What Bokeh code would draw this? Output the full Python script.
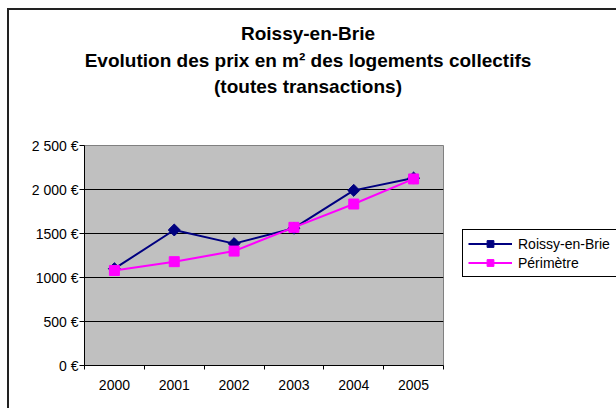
from bokeh.plotting import figure
from bokeh.models import Range1d, FixedTicker, Label, Legend, LegendItem
from bokeh.layouts import row, column
from bokeh.embed import file_html
from bokeh.resources import INLINE
import numpy as np

years = ["2000", "2001", "2002", "2003", "2004", "2005"]
roissy = [1100, 1540, 1385, 1560, 1990, 2130]
perimetre = [1080, 1180, 1300, 1570, 1835, 2120]
y_ticks = [0, 500, 1000, 1500, 2000, 2500]
y_labels = ["0 €", "500 €", "1000 €", "1500 €", "2 000 €", "2 500 €"]
title_lines = ["Roissy-en-Brie",
               "Evolution des prix en m² des logements collectifs",
               "(toutes transactions)"]
series_names = ["Roissy-en-Brie", "Périmètre"]

FONT = "Liberation Sans"
NAVY = "#000080"
MAGENTA = "#FF00FF"

xs = [i + 0.5 for i in range(len(years))]


def blank(width, height, **borders):
    f = figure(width=width, height=height, output_backend="svg", toolbar_location=None,
               x_range=Range1d(0, 1), y_range=Range1d(0, 1),
               x_axis_location=None, y_axis_location=None, **borders)
    f.grid.visible = False
    f.outline_line_color = None
    f.background_fill_color = "white"
    f.border_fill_color = "white"
    return f


# ---- title block (full width) ----
t = blank(607, 125, min_border_left=0, min_border_right=0, min_border_top=0, min_border_bottom=0)
for txt, ypos in zip(title_lines, [102, 75.3, 49.3]):
    t.add_layout(Label(x=298.5, y=ypos, x_units="screen", y_units="screen", text=txt,
                       text_align="center", text_baseline="alphabetic",
                       text_font=FONT, text_font_size="19px", text_font_style="bold",
                       text_color="black"))

# ---- main plot ----
p = figure(width=435, height=273, output_backend="svg", toolbar_location=None,
           x_range=Range1d(0, len(years)), y_range=Range1d(0, 2500),
           min_border_left=75, min_border_right=1, min_border_top=10,
           min_border_bottom=43)
p.background_fill_color = "#C0C0C0"
p.border_fill_color = "white"
p.outline_line_color = "#808080"
p.outline_line_width = 1

p.xaxis.ticker = FixedTicker(ticks=xs, minor_ticks=list(range(len(years) + 1)))
p.xaxis.major_label_overrides = {x: y for x, y in zip(xs, years)}
p.xaxis.major_tick_line_color = None
p.xaxis.minor_tick_line_color = "black"
p.xaxis.minor_tick_out = 4
p.xaxis.minor_tick_in = 0
p.xaxis.major_label_standoff = 8

p.yaxis.ticker = FixedTicker(ticks=y_ticks, minor_ticks=[])
p.yaxis.major_label_overrides = {v: l for v, l in zip(y_ticks, y_labels)}
p.yaxis.major_tick_out = 5
p.yaxis.major_tick_in = 0
p.yaxis.major_label_standoff = 1

for ax in (p.xaxis, p.yaxis):
    ax.axis_line_color = "black"
    ax.axis_line_width = 1
    ax.major_label_text_font = FONT
    ax.major_label_text_font_size = "14px"
    ax.major_label_text_color = "black"

p.xgrid.visible = False
p.ygrid.ticker = FixedTicker(ticks=[500, 1000, 1500, 2000])
p.ygrid.grid_line_color = "black"
p.ygrid.grid_line_width = 1

p.line(xs, roissy, line_color=NAVY, line_width=2)
p.scatter(xs, roissy, marker="square", angle=np.pi / 4, size=8.5,
          fill_color=NAVY, line_color=NAVY)
p.line(xs, perimetre, line_color=MAGENTA, line_width=2)
p.scatter(xs, perimetre, marker="square", size=10,
          fill_color=MAGENTA, line_color=MAGENTA)

# ---- legend block (right of the plot area) ----
q = blank(172, 273, min_border_left=0, min_border_right=0, min_border_top=10,
          min_border_bottom=43)
q.y_range = Range1d(-2, -1)  # proxy series lie outside the view; only legend glyphs show
ql1 = q.line(xs, roissy, line_color=NAVY, line_width=2)
qm1 = q.scatter(xs, roissy, marker="square", angle=np.pi / 4, size=6,
                fill_color=NAVY, line_color=NAVY)
ql2 = q.line(xs, perimetre, line_color=MAGENTA, line_width=2)
qm2 = q.scatter(xs, perimetre, marker="square", size=7,
                fill_color=MAGENTA, line_color=MAGENTA)

legend = Legend(items=[LegendItem(label=series_names[0], renderers=[ql1, qm1]),
                       LegendItem(label=series_names[1], renderers=[ql2, qm2])],
                location=(18, 88), orientation="vertical",
                glyph_width=44, glyph_height=17, label_height=17, label_width=110,
                label_standoff=6, padding=5, spacing=2, margin=0,
                label_text_font=FONT, label_text_font_size="14px",
                label_text_color="black",
                border_line_color="black", border_line_width=1, border_line_alpha=1,
                background_fill_color="white", background_fill_alpha=1)
q.add_layout(legend, "center")

layout = column(t, row(p, q))
layout.styles = {"margin-left": "7px", "margin-top": "8px",
                 "border-left": "2px solid #222", "border-top": "2px solid #222"}

open("out.html", "w").write(file_html(layout, INLINE))
